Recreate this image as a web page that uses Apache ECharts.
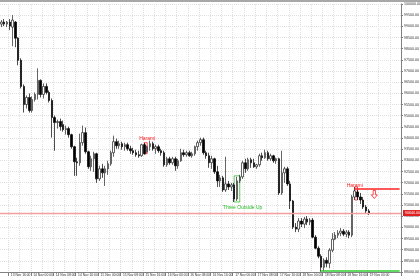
<!DOCTYPE html>
<html><head><meta charset="utf-8">
<script src="https://cdn.jsdelivr.net/npm/echarts@6/dist/echarts.min.js"></script>
<style>html,body{margin:0;padding:0;background:#fff}#c{width:420px;height:280px}</style>
</head><body><div id="c"></div>
<script>
// Hourly bars, 13 Nov 13:00 -> 19 Nov 00:00 (plus empty right shift)
const startDay = 13, startHour = 13, totalSlots = 143, lastBar = 131;

const opens = [
99100,99190,99100,99190,98965,99190,98470,97480,96310,95500,
95815,95230,95725,95950,96580,95950,96310,96040,95680,94915,
94690,94735,94600,94375,94420,94150,93610,92935,92890,93790,
94240,93385,92710,93070,93295,92170,92620,92440,92620,92845,
93340,93835,93655,93745,93610,93700,93520,93430,93340,93250,
93205,93700,93385,93610,93745,93520,93610,93430,93340,92800,
93070,92890,93070,92755,92980,93340,93250,93340,93205,93295,
93610,93790,93925,93340,93205,92890,93070,92485,92080,92215,
91675,91945,91810,91900,91270,92080,92260,92890,92620,93025,
92890,92710,92800,93205,93115,93340,93070,93205,92980,93070,
91540,92440,92620,91945,91180,90010,89920,90280,90145,90370,
90235,90325,89560,89065,88705,88210,88525,88390,88975,89470,
89650,89740,89830,89695,89785,89650,91360,91585,91360,91225,
90910,90730];
const closes = [
99190,99100,99190,99010,99280,98470,97480,96310,95500,95815,
95230,95725,95950,96580,95950,96310,96040,95680,94915,94690,
94735,94510,94375,94420,94150,93610,92935,92890,93790,94240,
93385,92710,93070,93295,92170,92620,92440,92620,92845,93340,
93835,93655,93745,93610,93700,93520,93430,93340,93250,93205,
93700,93295,93610,93745,93520,93610,93430,93340,92800,93070,
92890,93070,92755,92980,93340,93250,93340,93205,93295,93610,
93790,93925,93340,93205,92890,93070,92485,92080,92215,91675,
91945,91810,91900,91270,92080,92260,92890,92620,93025,92890,
92710,92800,93205,93115,93340,93070,93205,92980,93070,91540,
92440,92620,91945,91180,90010,89920,90280,90145,90370,90235,
90325,89560,89065,88705,88210,88525,88390,88975,89470,89650,
89740,89830,89695,89785,89650,91360,91630,91360,91225,90910,
90730,90640];
const lows = [
98965,99010,98965,98830,98110,98065,97255,96220,95140,95320,
95140,95140,95635,95725,95815,95770,95950,95590,94015,93430,
94420,94330,94285,94150,94015,93520,92305,92305,92755,93655,
93295,92620,92530,92485,91990,92080,92215,91855,92350,92755,
93160,93520,93520,93475,93430,93430,93295,93250,93160,93115,
93160,93250,93340,93430,93430,93295,93340,93205,92710,92710,
92800,92800,92530,92620,92935,93160,93160,93160,93115,93205,
93430,93655,93250,93070,92665,92620,92395,91810,91810,91585,
91585,91675,91630,91135,91180,91990,92170,92440,92530,92665,
92665,92620,92710,92980,93070,92980,92980,92890,92845,91450,
91450,91990,91855,90820,89920,89785,89785,90010,89965,90100,
90100,89515,89020,88615,88010,88030,88210,88165,88885,89425,
89515,89605,89605,89560,89515,89560,91225,91225,91045,90820,
90640,90550];
const highs = [
99280,99325,99235,99325,99505,99235,98515,97570,96400,95905,
95995,95860,96040,97120,96625,96445,96445,96130,95770,95005,
94825,94870,94780,94555,94510,94195,93655,93115,94195,94555,
94465,93430,93205,93385,93340,92755,92845,92755,92980,93430,
94105,93970,93880,93835,93790,93790,93655,93565,93475,93430,
93745,93790,93655,93880,93835,93700,93700,93520,93430,93160,
93160,93160,93160,93070,93520,93475,93430,93430,93385,93655,
93880,94015,94015,93430,93340,93205,93115,92755,92350,92305,
93160,92080,91990,91990,92260,92350,92980,93070,93115,93115,
93070,92845,93295,93340,93475,93430,93295,93250,93115,93115,
93430,92710,92710,92080,91225,90190,90415,90415,90460,90505,
90415,90415,89650,89155,88795,88615,88660,89065,89740,89785,
89875,89965,89920,89875,89875,91450,91810,91675,91540,91360,
91000,90820];

// Price-axis ticks
const yMin = 88000, yMax = 100000, yStep = 500;
// Levels & annotations
const bidPrice = 90640;
const haramiLevel = 91720, haramiLevelFrom = 126;
const supportLevel = 88060, supportFrom = 114;
const haramiBox1 = {from:51, to:52, top:93790, bottom:93295};
const haramiBox2 = {from:126, to:127, top:91810, bottom:91225};
const tou = {from:83, to:85, top:92305, bottom:91135};
const haramiText1 = {bar:52, price:93970};
const haramiText2 = {bar:126, price:91860};
const touText = {bar:86, price:90865};
const arrowMark = {bar:133, price:91470};

const categories = [];
{ let d = startDay, h = startHour;
  for (let i = 0; i < totalSlots; i++) {
    categories.push(d + ' Nov ' + String(h).padStart(2,'0') + ':00');
    h++; if (h === 24) { h = 0; d++; }
  } }

const data = opens.map((o, i) => [o, closes[i], lows[i], highs[i]]);
const C = i => categories[i];
const FONT = 'Liberation Sans';
const RED = '#ff2020';
const GREEN = '#2ecc2e';

function levelSeries(name, ml) {
  return {name, type:'line', data:[], silent:true, symbol:'none', z:4, markLine:Object.assign({silent:true, symbol:['none','none'], animation:false}, ml)};
}

const chart = echarts.init(document.getElementById('c'), null, {renderer:'canvas', width:420, height:280});
chart.setOption({
  animation:false,
  backgroundColor:'#ffffff',
  textStyle:{fontFamily:FONT},
  grid:{left:0, right:19, top:4, bottom:8, outerBoundsMode:'none', containLabel:false},
  graphic:[{type:'rect', shape:{x:0, y:0, width:420, height:2}, style:{fill:'#a8a8a8'}, silent:true}],
  xAxis:{
    type:'category', data:categories, boundaryGap:true,
    axisLine:{lineStyle:{color:'#808080', width:1}},
    axisTick:{show:true, interval:(i)=>i%8===3 && i<=lastBar, length:4, lineStyle:{color:'#808080'}},
    axisLabel:{interval:(i)=>i%8===3 && i<=lastBar, align:'left', fontSize:3.3, color:'#333', margin:2, fontFamily:FONT, padding:[0,0,0,1], hideOverlap:false},
    splitLine:{show:true, interval:(i)=>i%4===3, lineStyle:{color:'#e0e0e0', type:'dotted', width:1}}
  },
  yAxis:{
    type:'value', position:'right', min:yMin, max:yMax, interval:yStep,
    axisLine:{show:true, lineStyle:{color:'#808080'}},
    axisTick:{show:true, length:2, lineStyle:{color:'#808080'}},
    axisLabel:{fontSize:3.6, color:'#333', margin:3, fontFamily:FONT, formatter:v=>v.toFixed(2)},
    splitLine:{show:true, lineStyle:{color:'#e0e0e0', type:'dotted', width:1}}
  },
  series:[
    levelSeries('bid', {
      lineStyle:{color:'#f4a0a0', width:1.3, type:'solid'},
      label:{show:true, position:'end', distance:2, formatter:bidPrice.toFixed(2), color:'#fff', backgroundColor:'#e02020', fontSize:3.6, padding:[1,2], fontFamily:FONT},
      data:[{yAxis:bidPrice}]
    }),
    levelSeries('haramiLevel', {
      lineStyle:{color:RED, width:1.6, type:'solid', opacity:1}, label:{show:false},
      data:[[{coord:[C(haramiLevelFrom), haramiLevel]}, {coord:[C(totalSlots-1), haramiLevel]}]]
    }),
    levelSeries('support', {
      lineStyle:{color:GREEN, width:1.5, type:'solid'}, label:{show:false},
      data:[[{coord:[C(supportFrom), supportLevel]}, {coord:[C(totalSlots-1), supportLevel]}]]
    }),
    {
    type:'candlestick', data:data, barWidth:2, z:3,
    itemStyle:{color:'#ffffff', color0:'#000000', borderColor:'#222222', borderColor0:'#000000', borderWidth:0.7},
    markArea:{
      silent:true,
      data:[
        [{coord:[C(haramiBox1.from), haramiBox1.top], itemStyle:{color:'rgba(0,0,0,0)', borderColor:RED, borderWidth:0.8}},
         {coord:[C(haramiBox1.to), haramiBox1.bottom]}],
        [{coord:[C(haramiBox2.from), haramiBox2.top], itemStyle:{color:'rgba(0,0,0,0)', borderColor:RED, borderWidth:0.8}},
         {coord:[C(haramiBox2.to), haramiBox2.bottom]}],
        [{coord:[C(tou.from), tou.top], itemStyle:{color:'rgba(0,0,0,0)', borderColor:'#33bb33', borderWidth:0.8}},
         {coord:[C(tou.to), tou.bottom]}]
      ]
    },
    markPoint:{
      silent:true, animation:false,
      data:[
        {coord:[C(haramiText1.bar), haramiText1.price], symbol:'rect', symbolSize:1, itemStyle:{color:'rgba(0,0,0,0)'},
         label:{show:true, position:'inside', formatter:'Harami', color:RED, fontSize:5, fontFamily:FONT}},
        {coord:[C(haramiText2.bar), haramiText2.price], symbol:'rect', symbolSize:1, itemStyle:{color:'rgba(0,0,0,0)'},
         label:{show:true, position:'inside', formatter:'Harami', color:RED, fontSize:5, fontFamily:FONT}},
        {coord:[C(touText.bar), touText.price], symbol:'rect', symbolSize:1, itemStyle:{color:'rgba(0,0,0,0)'},
         label:{show:true, position:'inside', formatter:'Three Outside Up', color:'#22bb22', fontSize:5, fontFamily:FONT}},
        {coord:[C(arrowMark.bar), arrowMark.price], symbol:'path://M3,0 L7,0 L7,6 L10,6 L5,11 L0,6 L3,6 Z', symbolSize:[6,8],
         itemStyle:{color:'rgba(0,0,0,0)', borderColor:RED, borderWidth:0.8}, label:{show:false}}
      ]
    }
  }]
});
</script>
</body></html>
